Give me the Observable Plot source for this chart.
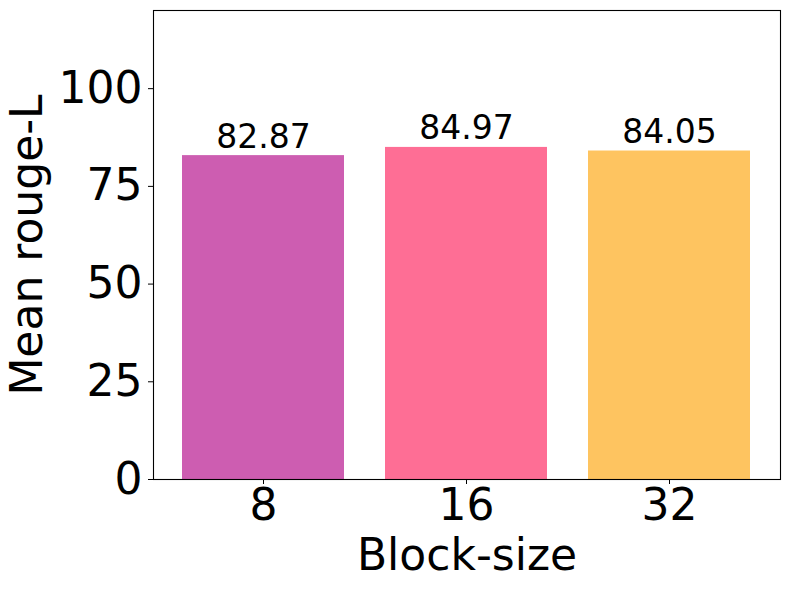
<!DOCTYPE html>
<html>
<head>
<meta charset="utf-8">
<script src="https://cdn.jsdelivr.net/npm/d3@7"></script>
<script src="https://cdn.jsdelivr.net/npm/@observablehq/plot@0.6"></script>
<style>
  html, body { margin: 0; padding: 0; background: #fff; }
  #chart svg { display: block; }
</style>
</head>
<body>
<div id="chart"></div>
<script>
const blockSizes = ["8", "16", "32"];
const rougeL = [82.87, 84.97, 84.05];
const barColors = ["#cd5db1", "#fe6e95", "#fec460"];
const yTicks = [0, 25, 50, 75, 100];

const data = blockSizes.map((b, i) => ({block: b, value: rougeL[i], color: barColors[i]}));

const chart = Plot.plot({
  width: 790,
  height: 590,
  marginLeft: 153,
  marginRight: 10,
  marginTop: 10,
  marginBottom: 111,
  style: {fontFamily: "DejaVu Sans", fontSize: "44px", color: "#000", background: "#fff"},
  x: {domain: blockSizes, paddingInner: 0.2, paddingOuter: 0.14},
  y: {domain: [0, 120]},
  marks: [
    Plot.barY(data, {x: "block", y: "value", fill: "color"}),
    Plot.text(data, {x: "block", y: "value", text: d => d.value.toFixed(2), fontSize: 33, lineAnchor: "bottom", dy: -8, fill: "#000"}),
    Plot.frame({stroke: "#000", strokeWidth: 1.1}),
    Plot.axisX({ticks: blockSizes, tickSize: 5, tickPadding: 4, fontSize: 44, label: "Block-size", labelAnchor: "center", labelOffset: 90, labelArrow: "none"}),
    Plot.axisY({ticks: yTicks, tickSize: 5, tickPadding: 6, fontSize: 44, label: "Mean rouge-L", labelAnchor: "center", labelOffset: 143, labelArrow: "none"})
  ]
});
document.getElementById("chart").appendChild(chart);
</script>
</body>
</html>
